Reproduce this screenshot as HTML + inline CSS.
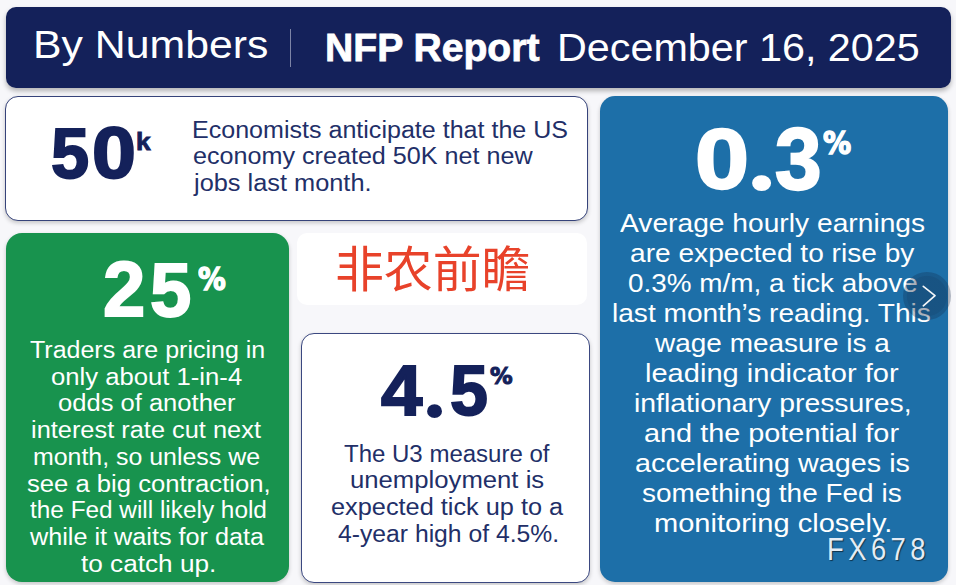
<!DOCTYPE html>
<html><head><meta charset="utf-8"><style>
html,body{margin:0;padding:0;}
body{width:956px;height:585px;overflow:hidden;background:#f7f7fa;position:relative;font-family:'Liberation Sans',sans-serif;}
.b{position:absolute;box-sizing:border-box;}
.t{position:absolute;white-space:nowrap;line-height:1;transform-origin:0 0;}
#hdr{left:6px;top:7px;width:945px;height:81px;background:#14215a;border-radius:10px;box-shadow:0 3px 5px rgba(0,0,0,0.28);}
#div{left:290px;top:29px;width:1px;height:38px;background:#7d84a6;}
#c1{left:5px;top:96px;width:583px;height:125px;background:#fff;border:1px solid #36437a;border-radius:13px;box-shadow:0 2px 4px rgba(0,0,0,0.2);}
#gr{left:6px;top:233px;width:283px;height:349px;background:#18934e;border-radius:16px;box-shadow:0 2px 4px rgba(0,0,0,0.2);}
#cn{left:297px;top:233px;width:290px;height:72px;background:#fff;border-radius:10px;}
#c4{left:300.5px;top:333px;width:289.5px;height:249.5px;background:#fff;border:1px solid #3b4880;border-radius:13px;box-shadow:0 2px 4px rgba(0,0,0,0.2);}
#bl{left:600px;top:96px;width:347.8px;height:485.8px;background:#1d6fa8;border-radius:15px;box-shadow:0 2px 4px rgba(0,0,0,0.2);}
#nav{left:903px;top:272px;width:47.5px;height:47.5px;border-radius:50%;background:radial-gradient(circle closest-side,rgba(15,35,65,0.36) 0,rgba(15,35,65,0.36) 82%,rgba(15,35,65,0.27) 86%,rgba(15,35,65,0.27) 100%);}
</style></head><body>
<div class="b" id="hdr"></div>
<div class="b" id="div"></div>
<div class="b" id="c1"></div>
<div class="b" id="gr"></div>
<div class="b" id="cn"></div>
<div class="b" id="c4"></div>
<div class="b" id="bl"></div>
<div class="t" style="left:33.20px;top:25.09px;font-size:39px;font-weight:400;color:#ffffff;font-family:'Liberation Sans', sans-serif;transform:scale(1.09693,1.00000);">By Numbers</div>
<div class="t" style="left:325.21px;top:28.05px;font-size:39.4px;font-weight:700;color:#ffffff;font-family:'Liberation Sans', sans-serif;transform:scale(0.99333,1.00000);-webkit-text-stroke:0.8px #fff;">NFP Report</div>
<div class="t" style="left:557.38px;top:27.59px;font-size:39.7px;font-weight:400;color:#ffffff;font-family:'Liberation Sans', sans-serif;transform:scale(1.04061,1.00000);">December 16, 2025</div>
<div class="t" style="left:50.77px;top:117.99px;font-size:72px;font-weight:700;color:#14215a;font-family:'Liberation Sans', sans-serif;transform:scale(0.95214,0.98655);-webkit-text-stroke:2px #14215a;">5</div>
<div class="t" style="left:92.21px;top:116.95px;font-size:72px;font-weight:700;color:#14215a;font-family:'Liberation Sans', sans-serif;transform:scale(1.09722,1.00000);-webkit-text-stroke:2px #14215a;">0</div>
<div class="t" style="left:136.02px;top:129.50px;font-size:28px;font-weight:700;color:#14215a;font-family:'Liberation Sans', sans-serif;transform:scale(0.93601,0.86704);-webkit-text-stroke:1px #14215a;">k</div>
<div class="t" style="left:191.52px;top:119.28px;font-size:23.3px;font-weight:400;color:#222f68;font-family:'Liberation Sans', sans-serif;transform:scale(1.07557,1.00000);">Economists anticipate that the US</div>
<div class="t" style="left:192.60px;top:144.78px;font-size:23.3px;font-weight:400;color:#222f68;font-family:'Liberation Sans', sans-serif;transform:scale(1.07916,1.00000);">economy created 50K net new</div>
<div class="t" style="left:194.09px;top:172.08px;font-size:23.3px;font-weight:400;color:#222f68;font-family:'Liberation Sans', sans-serif;transform:scale(1.08803,1.00000);">jobs last month.</div>
<div class="t" style="left:102.70px;top:251.16px;font-size:80px;font-weight:700;color:#ffffff;font-family:'Liberation Sans', sans-serif;transform:scale(0.95016,0.97243);-webkit-text-stroke:2px #fff;">2</div>
<div class="t" style="left:150.11px;top:253.06px;font-size:80px;font-weight:700;color:#ffffff;font-family:'Liberation Sans', sans-serif;transform:scale(0.92832,0.94496);-webkit-text-stroke:2px #fff;">5</div>
<div class="t" style="left:197.93px;top:263.43px;font-size:34px;font-weight:700;color:#ffffff;font-family:'DejaVu Sans', sans-serif;transform:scale(0.81519,0.91904);-webkit-text-stroke:1.6px #fff;">%</div>
<div class="t" style="left:29.79px;top:339.28px;font-size:23.3px;font-weight:400;color:#ffffff;font-family:'Liberation Sans', sans-serif;transform:scale(1.07289,1.00000);">Traders are pricing in</div>
<div class="t" style="left:50.99px;top:365.98px;font-size:23.3px;font-weight:400;color:#ffffff;font-family:'Liberation Sans', sans-serif;transform:scale(1.10154,1.00000);">only about 1-in-4</div>
<div class="t" style="left:57.79px;top:391.68px;font-size:23.3px;font-weight:400;color:#ffffff;font-family:'Liberation Sans', sans-serif;transform:scale(1.09665,1.00000);">odds of another</div>
<div class="t" style="left:30.90px;top:419.38px;font-size:23.3px;font-weight:400;color:#ffffff;font-family:'Liberation Sans', sans-serif;transform:scale(1.08934,1.00000);">interest rate cut next</div>
<div class="t" style="left:32.93px;top:446.08px;font-size:23.3px;font-weight:400;color:#ffffff;font-family:'Liberation Sans', sans-serif;transform:scale(1.06889,1.00000);">month, so unless we</div>
<div class="t" style="left:26.99px;top:472.78px;font-size:23.3px;font-weight:400;color:#ffffff;font-family:'Liberation Sans', sans-serif;transform:scale(1.10013,1.00000);">see a big contraction,</div>
<div class="t" style="left:29.50px;top:499.48px;font-size:23.3px;font-weight:400;color:#ffffff;font-family:'Liberation Sans', sans-serif;transform:scale(1.04547,1.00000);">the Fed will likely hold</div>
<div class="t" style="left:29.98px;top:526.18px;font-size:23.3px;font-weight:400;color:#ffffff;font-family:'Liberation Sans', sans-serif;transform:scale(1.08205,1.00000);">while it waits for data</div>
<div class="t" style="left:80.80px;top:552.88px;font-size:23.3px;font-weight:400;color:#ffffff;font-family:'Liberation Sans', sans-serif;transform:scale(1.12303,1.00000);">to catch up.</div>
<div class="t" style="left:335.16px;top:245.57px;font-size:48px;font-weight:400;color:#e8422a;font-family:'Liberation Sans', 'Noto Sans CJK SC', sans-serif;transform:scale(1.01812,1.01799);">非农前瞻</div>
<div class="t" style="left:381.13px;top:355.92px;font-size:72px;font-weight:700;color:#14215a;font-family:'Liberation Sans', sans-serif;transform:scale(1.03194,0.97311);-webkit-text-stroke:2px #14215a;">4</div>
<div class="t" style="left:423.26px;top:346.67px;font-size:60px;font-weight:700;color:#14215a;font-family:'Liberation Serif', serif;transform:scale(1.53670,1.40501);">.</div>
<div class="t" style="left:450.08px;top:354.59px;font-size:72px;font-weight:700;color:#14215a;font-family:'Liberation Sans', sans-serif;transform:scale(0.94668,0.98474);-webkit-text-stroke:2px #14215a;">5</div>
<div class="t" style="left:489.99px;top:365.37px;font-size:27px;font-weight:700;color:#14215a;font-family:'DejaVu Sans', sans-serif;transform:scale(0.83719,0.82911);-webkit-text-stroke:1.3px #14215a;">%</div>
<div class="t" style="left:343.90px;top:442.53px;font-size:23.0px;font-weight:400;color:#222f68;font-family:'Liberation Sans', sans-serif;transform:scale(1.04371,1.00000);">The U3 measure of</div>
<div class="t" style="left:350.38px;top:469.13px;font-size:23.0px;font-weight:400;color:#222f68;font-family:'Liberation Sans', sans-serif;transform:scale(1.11686,1.00000);">unemployment is</div>
<div class="t" style="left:330.99px;top:495.73px;font-size:23.0px;font-weight:400;color:#222f68;font-family:'Liberation Sans', sans-serif;transform:scale(1.10058,1.00000);">expected tick up to a</div>
<div class="t" style="left:338.09px;top:523.33px;font-size:23.0px;font-weight:400;color:#222f68;font-family:'Liberation Sans', sans-serif;transform:scale(1.07417,1.00000);">4-year high of 4.5%.</div>
<div class="t" style="left:695.26px;top:116.99px;font-size:90px;font-weight:700;color:#ffffff;font-family:'Liberation Sans', sans-serif;transform:scale(1.07982,0.93957);-webkit-text-stroke:2.4px #fff;">0</div>
<div class="t" style="left:746.93px;top:109.98px;font-size:70px;font-weight:700;color:#ffffff;font-family:'Liberation Serif', serif;transform:scale(1.66880,1.38689);">.</div>
<div class="t" style="left:775.28px;top:116.29px;font-size:90px;font-weight:700;color:#ffffff;font-family:'Liberation Sans', sans-serif;transform:scale(0.92890,0.96041);-webkit-text-stroke:2.4px #fff;">3</div>
<div class="t" style="left:823.13px;top:127.43px;font-size:34px;font-weight:700;color:#ffffff;font-family:'DejaVu Sans', sans-serif;transform:scale(0.82712,0.91904);-webkit-text-stroke:1.6px #fff;">%</div>
<div class="t" style="left:620.00px;top:209.82px;font-size:26.2px;font-weight:400;color:#ffffff;font-family:'Liberation Sans', sans-serif;transform:scale(1.07660,1.00000);">Average hourly earnings</div>
<div class="t" style="left:629.73px;top:239.82px;font-size:26.2px;font-weight:400;color:#ffffff;font-family:'Liberation Sans', sans-serif;transform:scale(1.07351,1.00000);">are expected to rise by</div>
<div class="t" style="left:627.94px;top:269.82px;font-size:26.2px;font-weight:400;color:#ffffff;font-family:'Liberation Sans', sans-serif;transform:scale(1.06429,1.00000);">0.3% m/m, a tick above</div>
<div class="t" style="left:611.92px;top:299.82px;font-size:26.2px;font-weight:400;color:#ffffff;font-family:'Liberation Sans', sans-serif;transform:scale(1.07210,1.00000);">last month’s reading. This</div>
<div class="t" style="left:654.66px;top:329.82px;font-size:26.2px;font-weight:400;color:#ffffff;font-family:'Liberation Sans', sans-serif;transform:scale(1.06863,1.00000);">wage measure is a</div>
<div class="t" style="left:644.88px;top:359.82px;font-size:26.2px;font-weight:400;color:#ffffff;font-family:'Liberation Sans', sans-serif;transform:scale(1.10962,1.00000);">leading indicator for</div>
<div class="t" style="left:633.81px;top:389.82px;font-size:26.2px;font-weight:400;color:#ffffff;font-family:'Liberation Sans', sans-serif;transform:scale(1.08386,1.00000);">inflationary pressures,</div>
<div class="t" style="left:644.10px;top:419.82px;font-size:26.2px;font-weight:400;color:#ffffff;font-family:'Liberation Sans', sans-serif;transform:scale(1.10152,1.00000);">and the potential for</div>
<div class="t" style="left:635.10px;top:449.82px;font-size:26.2px;font-weight:400;color:#ffffff;font-family:'Liberation Sans', sans-serif;transform:scale(1.09841,1.00000);">accelerating wages is</div>
<div class="t" style="left:642.19px;top:479.82px;font-size:26.2px;font-weight:400;color:#ffffff;font-family:'Liberation Sans', sans-serif;transform:scale(1.06797,1.00000);">something the Fed is</div>
<div class="t" style="left:654.39px;top:509.82px;font-size:26.2px;font-weight:400;color:#ffffff;font-family:'Liberation Sans', sans-serif;transform:scale(1.10893,1.00000);">monitoring closely.</div>
<div class="t" style="left:827.41px;top:534.28px;font-size:31px;font-weight:400;color:#e4ecf5;font-family:'Liberation Sans', sans-serif;transform:scale(0.88506,1.01831);letter-spacing:5px;text-shadow:1px 1px 1px rgba(0,0,0,0.55);">FX678</div>

<div class="b" id="nav"><svg width="48" height="48" viewBox="0 0 48 48" style="position:absolute;left:0;top:0"><polyline points="20.3,14.3 32,23.6 20.3,33.8" fill="none" stroke="#f4f6f8" stroke-width="1.7" stroke-linecap="round" stroke-linejoin="round"/></svg></div>
</body></html>
